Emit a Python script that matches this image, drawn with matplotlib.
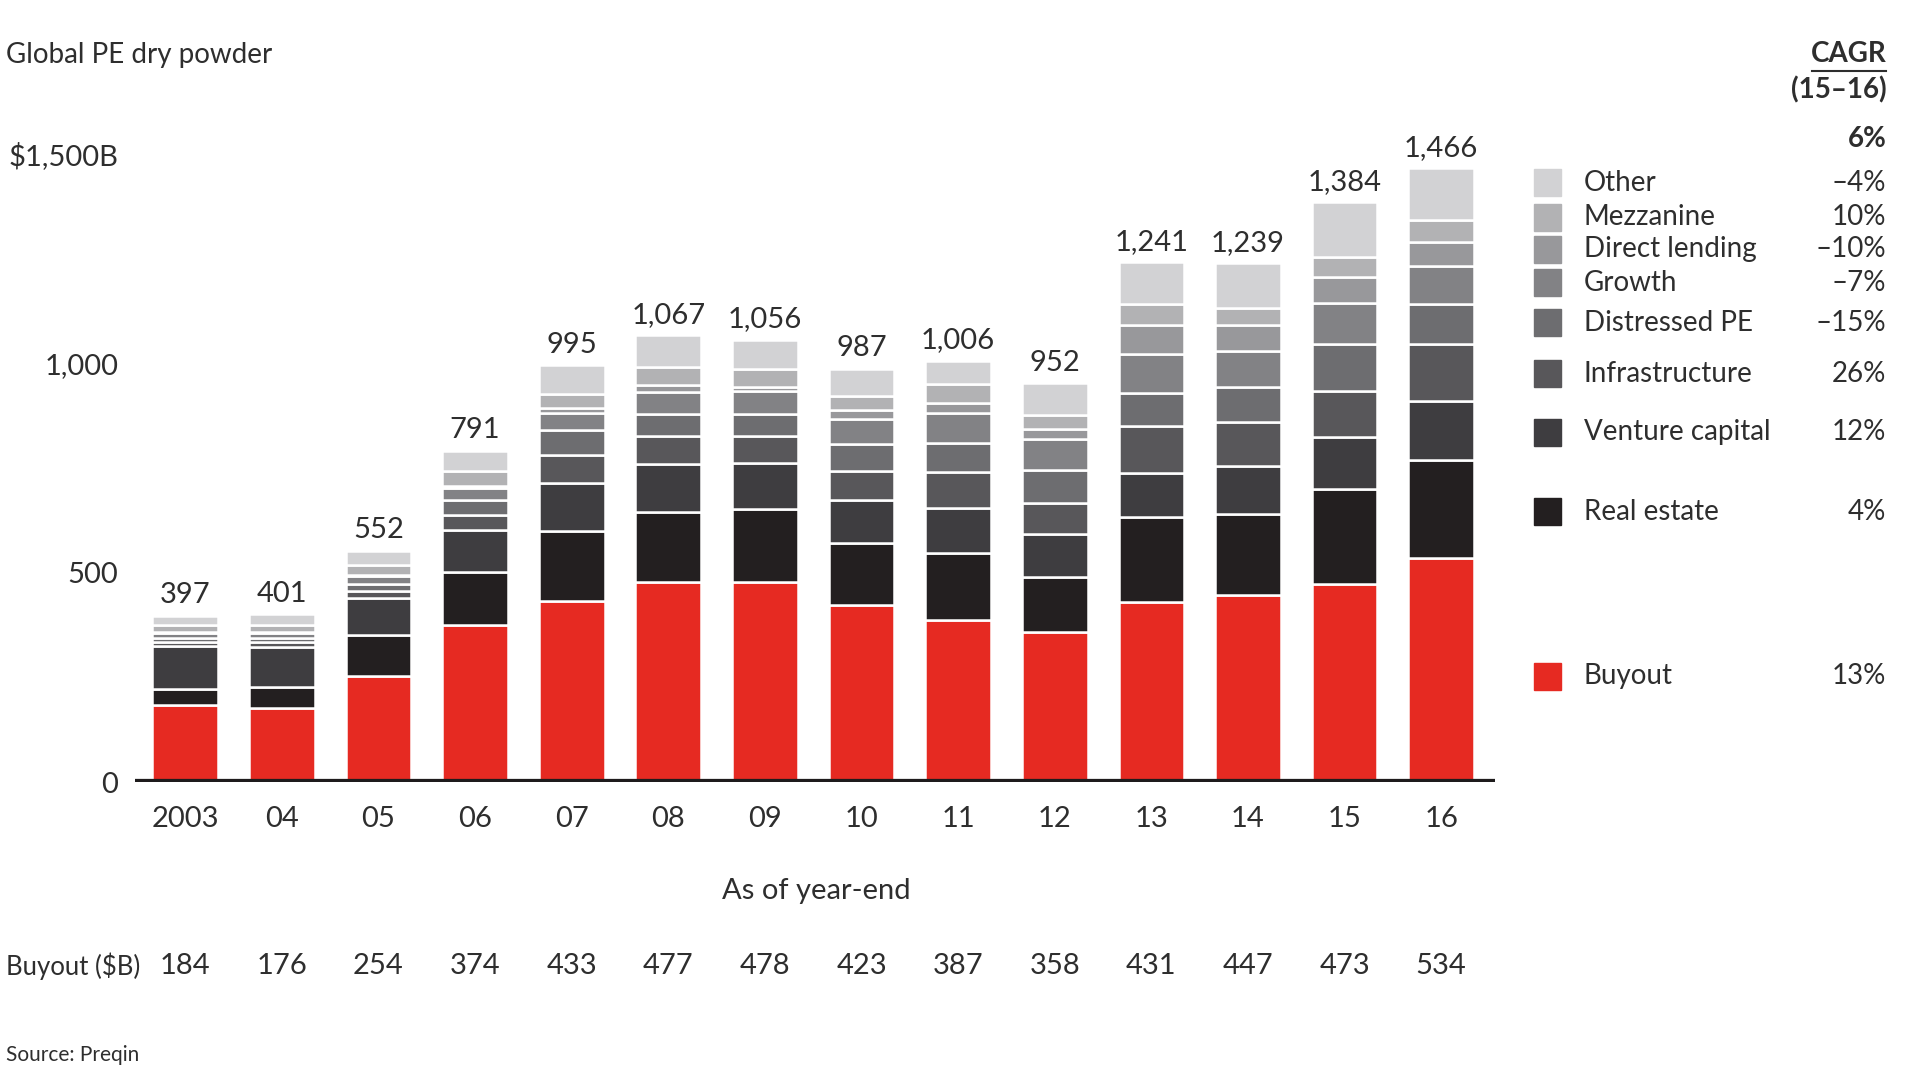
import matplotlib
matplotlib.use("Agg")
import matplotlib.pyplot as plt
import numpy as np
from matplotlib.patches import Rectangle
from matplotlib.lines import Line2D
from matplotlib.transforms import blended_transform_factory

plt.rcParams['font.family'] = ['Lato', 'DejaVu Sans']

TEXT_COLOR = "#2e2e2e"

years = ['2003', '04', '05', '06', '07', '08', '09', '10', '11', '12', '13', '14', '15', '16']
totals = [397, 401, 552, 791, 995, 1067, 1056, 987, 1006, 952, 1241, 1239, 1384, 1466]

# segments, bottom to top ($B)
buyout = [184, 176, 254, 374, 433, 477, 478, 423, 387, 358, 431, 447, 473, 534]
real_estate = [39, 52, 97, 127, 167, 168, 175, 148, 159, 132, 203, 192, 226, 235]
venture = [102, 95, 88, 101, 114, 114, 108, 102, 109, 102, 103, 116, 126, 141]
infra = [10, 12, 16, 35, 68, 67, 65, 70, 86, 74, 112, 105, 108, 136]
distressed = [10, 10, 19, 36, 59, 54, 53, 64, 69, 78, 80, 83, 113, 96]
growth = [12, 12, 18, 30, 40, 52, 54, 60, 72, 76, 94, 87, 98, 91]
direct_lending = [2, 2, 3, 4, 13, 16, 10, 22, 24, 24, 69, 62, 62, 56]
mezzanine = [16, 16, 23, 36, 33, 44, 44, 34, 44, 32, 49, 39, 48, 53]
other = [22, 26, 34, 48, 68, 75, 69, 64, 56, 76, 100, 108, 130, 124]

segments = [buyout, real_estate, venture, infra, distressed,
            growth, direct_lending, mezzanine, other]
names = ['Buyout', 'Real estate', 'Venture capital', 'Infrastructure',
         'Distressed PE', 'Growth', 'Direct lending', 'Mezzanine', 'Other']
colors = ['#e62a22', '#231f20', '#3e3d40', '#58575a', '#6d6d70',
          '#828285', '#98989b', '#b2b2b4', '#d2d2d4']
cagr = ['13%', '4%', '12%', '26%', '–15%', '–7%', '–10%', '10%', '–4%']

# legend row heights (figure fraction)
legend_y = [0.374, 0.526, 0.600, 0.654, 0.701, 0.738, 0.769, 0.799, 0.831]

fig = plt.figure(figsize=(19.2, 10.8), dpi=100)
ax = fig.add_axes([0.0703, 0.2759, 0.7085, 0.6204])

x = np.arange(len(years))
bottom = np.zeros(len(years))
for vals, color in zip(segments, colors):
    ax.bar(x, vals, 0.68, bottom=bottom, color=color,
           edgecolor='white', linewidth=1.8)
    bottom += np.array(vals)

for xi, t in zip(x, totals):
    ax.annotate(f'{t:,}', (xi, t), xytext=(0, 9), textcoords='offset points',
                ha='center', va='baseline', fontsize=21, color=TEXT_COLOR)

ax.axhline(0, color='#1e1b1c', lw=4.5, zorder=5)
ax.set_xlim(-0.52, 13.56)
ax.set_ylim(0, 1600)
for s in ax.spines.values():
    s.set_visible(False)

ax.set_yticks([0, 500, 1000, 1500], ['0', '500', '1,000', '$1,500B'])
ax.set_xticks(x, years)
ax.tick_params(axis='y', length=0, pad=12, labelsize=21, labelcolor=TEXT_COLOR)
ax.tick_params(axis='x', length=0, pad=17, labelsize=21, labelcolor=TEXT_COLOR)

# buyout row under the chart
trans = blended_transform_factory(ax.transData, fig.transFigure)
for xi, b in zip(x, buyout):
    ax.text(xi, 0.1056, str(b), transform=trans, ha='center', va='center',
            fontsize=21, color=TEXT_COLOR)

fig.text(0.003, 0.949, 'Global PE dry powder', ha='left', va='center',
         fontsize=20, color=TEXT_COLOR)
fig.text(0.003, 0.1056, 'Buyout ($B)', ha='left', va='center',
         fontsize=18.5, color=TEXT_COLOR)
fig.text(0.003, 0.023, 'Source: Preqin', ha='left', va='center',
         fontsize=15, color=TEXT_COLOR)
fig.text(0.425, 0.175, 'As of year-end', ha='center', va='center',
         fontsize=21, color=TEXT_COLOR)

# CAGR header
fig.text(0.9825, 0.95, 'CAGR', ha='right', va='center', fontsize=20,
         fontweight='bold', color=TEXT_COLOR)
fig.add_artist(Line2D([0.944, 0.9825], [0.934, 0.934], color=TEXT_COLOR, lw=1.5))
fig.text(0.9825, 0.917, '(15–16)', ha='right', va='center', fontsize=20,
         fontweight='bold', color=TEXT_COLOR)
fig.text(0.9825, 0.871, '6%', ha='right', va='center', fontsize=20,
         fontweight='bold', color=TEXT_COLOR)

# legend with CAGR values
for name, color, val, ly in zip(names, colors, cagr, legend_y):
    fig.add_artist(Rectangle((0.799, ly - 0.0125), 0.0141, 0.025,
                             transform=fig.transFigure, color=color))
    fig.text(0.825, ly, name, ha='left', va='center', fontsize=20,
             color=TEXT_COLOR)
    fig.text(0.9825, ly, val, ha='right', va='center', fontsize=20,
             color=TEXT_COLOR)

fig.savefig('out.png', dpi=100)
